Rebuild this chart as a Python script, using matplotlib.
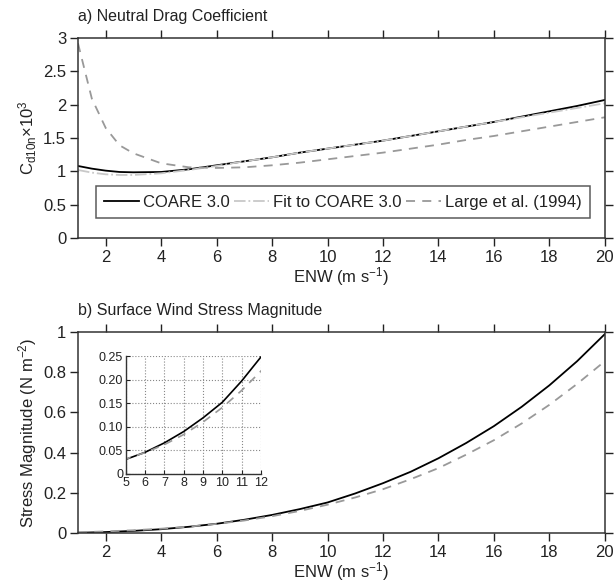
#!/usr/bin/env python3
import numpy as np
import matplotlib
matplotlib.use('Agg')
import matplotlib.pyplot as plt

plt.rcParams['font.family'] = ['Liberation Sans', 'DejaVu Sans']
plt.rcParams['mathtext.fontset'] = 'custom'
plt.rcParams['mathtext.rm'] = 'Liberation Sans'
plt.rcParams['mathtext.it'] = 'Liberation Sans'
plt.rcParams['axes.unicode_minus'] = False

# wind speed (m/s) and neutral drag coefficient (x10^3)
wind = [1, 1.5, 2, 2.5, 3, 4, 5, 6, 7, 8, 9, 10, 11, 12, 13, 14, 15, 16, 17, 18, 19, 20]
cd_coare = [1.08, 1.04, 1.01, 0.99, 0.985, 0.99, 1.03, 1.09, 1.15, 1.21, 1.28, 1.34,
            1.40, 1.46, 1.53, 1.60, 1.67, 1.74, 1.82, 1.90, 1.98, 2.07]
cd_fit = [1.02, 0.98, 0.955, 0.945, 0.945, 0.97, 1.02, 1.08, 1.15, 1.21, 1.28, 1.34,
          1.40, 1.46, 1.53, 1.60, 1.67, 1.74, 1.81, 1.88, 1.95, 2.02]
cd_large = [2.92, 2.09, 1.65, 1.39, 1.27, 1.12, 1.06, 1.05, 1.06, 1.09, 1.13, 1.18,
            1.23, 1.28, 1.34, 1.40, 1.47, 1.53, 1.60, 1.67, 1.74, 1.81]

# wind stress magnitude (N/m^2)
wind_tau = [1, 2, 3, 4, 5, 6, 7, 8, 9, 10, 11, 12, 13, 14, 15, 16, 17, 18, 19, 20]
tau_coare = [0.0013, 0.0048, 0.0106, 0.019, 0.031, 0.046, 0.066, 0.090, 0.119, 0.152,
             0.197, 0.248, 0.305, 0.372, 0.448, 0.532, 0.628, 0.735, 0.855, 0.99]
tau_large = [0.0035, 0.0079, 0.0137, 0.0215, 0.0318, 0.0454, 0.0623, 0.0837, 0.110, 0.141,
             0.177, 0.218, 0.268, 0.323, 0.390, 0.462, 0.545, 0.638, 0.742, 0.855]

txt = '#222222'
dash_col = '#999999'
fit_col = '#c8c8c8'
fs = 12

fig = plt.figure(figsize=(6.14, 5.84), dpi=100)
ax1 = fig.add_axes([0.127, 0.5925, 0.858, 0.3425])
ax2 = fig.add_axes([0.127, 0.0873, 0.858, 0.344])
ins = fig.add_axes([0.205, 0.1884, 0.22, 0.202])


def style(ax):
    ax.set_xlim(1, 20)
    ax.set_xticks(np.arange(2, 21, 2))
    ax.tick_params(direction='out', length=5.5, width=1, top=True, right=True,
                   labeltop=False, labelright=False, labelsize=fs, colors=txt, pad=3)
    for s in ax.spines.values():
        s.set_color('#333333')
        s.set_linewidth(1.1)
    ax.set_xlabel('ENW (m s$^{-1}$)', fontsize=fs, color=txt, labelpad=0.5)


# a) drag coefficient
ax1.plot(wind, cd_coare, color='black', lw=1.3, label='COARE 3.0')
ax1.plot(wind, cd_fit, color=fit_col, lw=1.3, ls='-.', label='Fit to COARE 3.0')
ax1.plot(wind, cd_large, color=dash_col, lw=1.3, ls=(0, (5, 4)), label='Large et al. (1994)')
style(ax1)
ax1.set_ylim(0, 3)
ax1.set_yticks([0, 0.5, 1, 1.5, 2, 2.5, 3])
ax1.set_yticklabels(['0', '0.5', '1', '1.5', '2', '2.5', '3'])
ax1.set_ylabel(r'C$_{\mathrm{d10n}}$$\times$10$^{3}$', fontsize=fs, color=txt, labelpad=3)
ax1.set_title('a) Neutral Drag Coefficient', loc='left', fontsize=11.5, color=txt, pad=12)
leg = ax1.legend(ncol=3, loc='lower center', bbox_to_anchor=(0.503, 0.1), fontsize=fs,
                 frameon=True, fancybox=False, edgecolor='#333333', handlelength=2.1,
                 columnspacing=0.25, handletextpad=0.25, borderpad=0.5, borderaxespad=0)
leg.get_frame().set_linewidth(1.1)
for t in leg.get_texts():
    t.set_color(txt)

# b) stress magnitude
ax2.plot(wind_tau, tau_coare, color='black', lw=1.3)
ax2.plot(wind_tau, tau_large, color=dash_col, lw=1.3, ls=(0, (5, 4)))
style(ax2)
ax2.set_ylim(0, 1)
ax2.set_yticks([0, 0.2, 0.4, 0.6, 0.8, 1])
ax2.set_yticklabels(['0', '0.2', '0.4', '0.6', '0.8', '1'])
ax2.set_ylabel('Stress Magnitude (N m$^{-2}$)', fontsize=fs, color=txt, labelpad=3)
ax2.set_title('b) Surface Wind Stress Magnitude', loc='left', fontsize=11.5, color=txt, pad=12)

# inset zoom
ins.plot(wind_tau, tau_coare, color='black', lw=1.2)
ins.plot(wind_tau, tau_large, color=dash_col, lw=1.2, ls=(0, (5, 4)))
ins.set_xlim(5, 12)
ins.set_ylim(0, 0.25)
ins.set_xticks(range(5, 13))
ins.set_yticks([0, 0.05, 0.10, 0.15, 0.20, 0.25])
ins.set_yticklabels(['0', '0.05', '0.10', '0.15', '0.20', '0.25'])
ins.grid(True, ls=':', color='#888888', lw=0.8)
ins.tick_params(direction='in', length=3, labelsize=9, colors=txt, pad=2)
ins.spines['top'].set_visible(False)
ins.spines['right'].set_visible(False)
for s in ['left', 'bottom']:
    ins.spines[s].set_color('#333333')
    ins.spines[s].set_linewidth(1.0)

fig.savefig('out.png', dpi=100)
